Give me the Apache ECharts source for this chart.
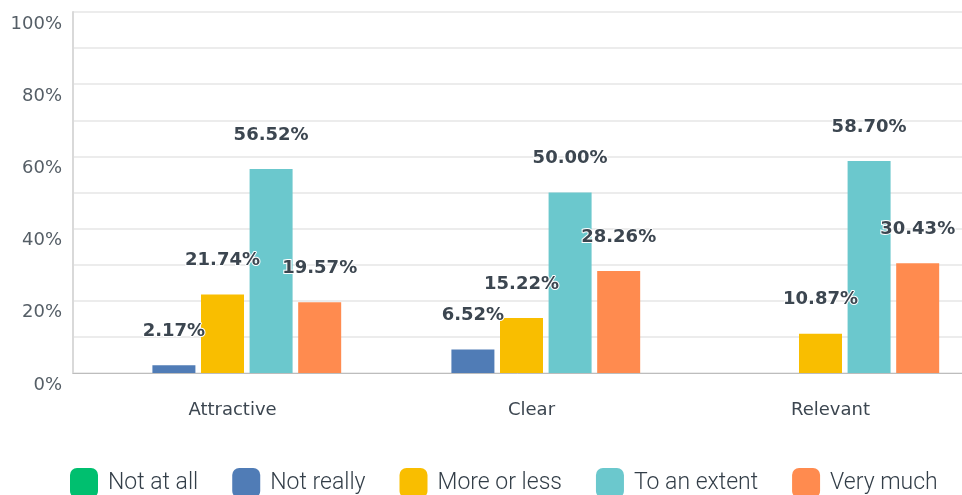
<!DOCTYPE html>
<html style="height:100%;width:100%;">
<head>
  <meta charset="utf-8">
  <title>Survey bars</title>
  <script src="https://cdn.jsdelivr.net/npm/echarts@6/dist/echarts.min.js"></script>
</head>
<body style="margin:0px;height:100%;width:100%;background:#fff;">
  <div id="main" style="width:962px;height:495px"></div>
  <script type="text/javascript">
    var categories = ['Attractive', 'Clear', 'Relevant'];
    var answers = ['Not at all', 'Not really', 'More or less', 'To an extent', 'Very much'];
    var notAtAll = [0, 0, 0];
    var notReally = [2.17, 6.52, 0];
    var moreOrLess = [21.74, 15.22, 10.87];
    var toAnExtent = [56.52, 50.00, 58.70];
    var veryMuch = [19.57, 28.26, 30.43];
    var colors = ['#00bf6f', '#507cb6', '#f9be00', '#6bc8cd', '#ff8b4f'];

    var values = [notAtAll, notReally, moreOrLess, toAnExtent, veryMuch];

    var myChart = echarts.init(document.getElementById('main'));

    var series = answers.map(function (name, i) {
      return {
        name: name,
        type: 'bar',
        data: values[i],
        barWidth: 43,
        barGap: '13%',
        itemStyle: { color: colors[i] },
        label: {
          show: true,
          position: 'top',
          distance: 25,
          fontFamily: 'DejaVu Sans',
          fontSize: 18,
          fontWeight: 'bold',
          color: '#3c4650',
          textBorderColor: '#fff',
          textBorderWidth: 2,
          formatter: function (p) {
            return p.value > 0 ? p.value.toFixed(2) + '%' : '';
          }
        }
      };
    });

    var option = {
      animation: false,
      color: colors,
      grid: {
        left: 73, right: -8, top: 12, bottom: 122,
        containLabel: false, outerBoundsMode: 'none'
      },
      legend: {
        data: answers,
        left: 70,
        top: 468,
        padding: 0,
        icon: 'roundRect',
        itemWidth: 28,
        itemHeight: 30,
        itemGap: 34,
        textStyle: {
          fontFamily: 'Roboto', fontSize: 23, fontWeight: 300, color: '#333e48',
          padding: [10, 0, 0, 5]
        }
      },
      xAxis: {
        type: 'category',
        data: categories,
        axisTick: { show: false },
        axisLine: { lineStyle: { color: '#bdbdbd', width: 1 } },
        axisLabel: {
          margin: 28,
          fontFamily: 'DejaVu Sans',
          fontSize: 18,
          color: '#3c4650',
          padding: [0, 0, 0, 20]
        }
      },
      yAxis: {
        type: 'value',
        min: 0,
        max: 100,
        interval: 10,
        axisLine: { show: true, lineStyle: { color: '#d9d9d9', width: 2 } },
        axisTick: { show: false },
        splitLine: { lineStyle: { color: '#ececec', width: 2 } },
        axisLabel: {
          margin: 11,
          fontFamily: 'DejaVu Sans',
          fontSize: 18,
          color: '#555e66',
          verticalAlign: 'top',
          padding: [3, 0, 0, 0],
          formatter: function (v) {
            return v % 20 === 0 ? v + '%' : '';
          }
        }
      },
      series: series
    };

    myChart.setOption(option);
  </script>
</body>
</html>
